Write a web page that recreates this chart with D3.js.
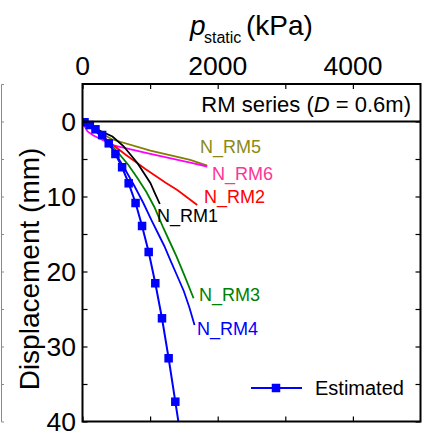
<!DOCTYPE html>
<html>
<head>
<meta charset="utf-8">
<script src="https://cdn.jsdelivr.net/npm/d3@7"></script>
<style>
  html, body { margin: 0; padding: 0; background: #fff; }
  svg { display: block; font-family: "Liberation Sans", Arial, sans-serif; }
</style>
</head>
<body>
<svg id="chart" width="425" height="432"></svg>
<script>
// Static pressure vs displacement, RM series (D = 0.6 m)
const xMajorTicks = [0, 2000, 4000];
const xMinorTicks = [1000, 3000];
const yMajorTicks = [0, 10, 20, 30, 40];
const yMinorTicks = [5, 15, 25, 35];

// measured curves: pressure (kPa) and displacement (mm)
const rm1P = [0, 118, 266, 443, 605, 812, 1004, 1077, 1144];
const rm1D = [0, 0.6, 1.27, 2.0, 3.27, 5.53, 8.2, 9.67, 11.0];
const rm2P = [0, 192, 413, 635, 930, 1225, 1402, 1697];
const rm2D = [0, 1.13, 2.87, 4.4, 6.33, 8.13, 9.13, 11.13];
const rm3P = [0, 192, 384, 531, 679, 812, 945, 1063, 1196, 1299, 1387, 1495, 1565, 1643];
const rm3D = [0, 1.27, 2.73, 4.2, 5.8, 7.53, 9.4, 11.4, 14.2, 16.2, 17.93, 20.24, 21.8, 23.57];
const rm4P = [0, 192, 384, 502, 635, 768, 900, 1018, 1107, 1210, 1299, 1402, 1498, 1579, 1657];
const rm4D = [0, 1.27, 2.87, 4.47, 6.47, 8.6, 10.87, 13.13, 14.73, 16.6, 18.47, 20.6, 22.6, 24.73, 27.13];
const rm5P = [0, 89, 266, 443, 1004, 1594, 1845];
const rm5D = [0, 0.6, 1.53, 2.4, 3.87, 5.13, 5.87];
const rm6P = [0, 30, 74, 162, 458, 1004, 1594, 1845];
const rm6D = [0, 0.6, 1.33, 1.87, 3.2, 4.33, 5.47, 6.0];

// estimated curve (with square markers)
const estP = [30, 108, 192, 291, 388, 487, 586, 683, 785, 881, 979, 1077, 1176, 1274, 1373, 1480];
const estD = [0.1, 0.47, 1.04, 1.8, 2.91, 4.33, 6.1, 8.24, 10.87, 13.93, 17.4, 21.57, 26.24, 31.57, 37.36, 43.6];

const series = [
  { name: "N_RM5", p: rm5P, d: rm5D, color: "#808000", text: "#8a8a1a", lx: 200, ly: 153 },
  { name: "N_RM6", p: rm6P, d: rm6D, color: "#ff00ff", text: "#ff3399", lx: 212, ly: 180 },
  { name: "N_RM2", p: rm2P, d: rm2D, color: "#ff0000", text: "#ff0000", lx: 204, ly: 203 },
  { name: "N_RM1", p: rm1P, d: rm1D, color: "#000000", text: "#000000", lx: 157, ly: 222 },
  { name: "N_RM3", p: rm3P, d: rm3D, color: "#008000", text: "#008000", lx: 199, ly: 301 },
  { name: "N_RM4", p: rm4P, d: rm4D, color: "#0000ff", text: "#0000ff", lx: 197, ly: 335 }
];

const svg = d3.select("#chart");
const pLeft = 82.5, pRight = 420.5, pTop = 84, pBottom = 421.5;
const x = d3.scaleLinear().domain([0, 5000]).range([pLeft, pRight]);
const y = d3.scaleLinear().domain([-5, 40]).range([pTop, pBottom]);

svg.append("defs").append("clipPath").attr("id", "plotclip")
  .append("rect").attr("x", pLeft).attr("y", pTop).attr("width", pRight - pLeft).attr("height", pBottom - pTop);

// edge of the neighbouring panel on the left
svg.append("g").attr("transform", "translate(1,0)")
  .call(d3.axisRight(y).tickValues([0, 5, 10, 15, 20, 25, 30, 35]).tickSize(3).tickFormat(""))
  .call(g => g.selectAll("line,path").attr("stroke", "#8a8a8a").attr("stroke-width", 1));

const line = d3.line().x(d => x(d[0])).y(d => y(d[1]));
const plot = svg.append("g").attr("clip-path", "url(#plotclip)");

series.forEach(s => {
  plot.append("path").datum(s.p.map((v, i) => [v, s.d[i]]))
    .attr("fill", "none").attr("stroke", s.color).attr("stroke-width", 1.8).attr("d", line);
  svg.append("text").attr("x", s.lx).attr("y", s.ly).attr("fill", s.text)
    .attr("font-size", 18).text(s.name);
});

const est = estP.map((v, i) => [v, estD[i]]);
plot.append("path").datum(est).attr("fill", "none").attr("stroke", "#0000ff")
  .attr("stroke-width", 2).attr("d", line);
plot.selectAll(".mk").data(est).join("rect").attr("class", "mk")
  .attr("x", d => x(d[0]) - 4.25).attr("y", d => y(d[1]) - 4.25)
  .attr("width", 8.5).attr("height", 8.5).attr("fill", "#0000ff");

// zero line and frame
svg.append("line").attr("x1", pLeft).attr("x2", pRight).attr("y1", y(0)).attr("y2", y(0))
  .attr("stroke", "#000").attr("stroke-width", 2);
svg.append("rect").attr("x", pLeft).attr("y", pTop).attr("width", pRight - pLeft).attr("height", pBottom - pTop)
  .attr("fill", "none").attr("stroke", "#000").attr("stroke-width", 2);

// ticks (inward on all sides)
const tickStyle = g => { g.select(".domain").remove(); g.selectAll("line").attr("stroke", "#000").attr("stroke-width", 1.2); };
svg.append("g").attr("transform", `translate(0,${pTop})`)
  .call(d3.axisBottom(x).tickValues(xMajorTicks.concat(xMinorTicks)).tickSize(5).tickFormat("")).call(tickStyle);
svg.append("g").attr("transform", `translate(0,${pBottom})`)
  .call(d3.axisTop(x).tickValues(xMajorTicks.concat(xMinorTicks)).tickSize(5).tickFormat("")).call(tickStyle);
svg.append("g").attr("transform", `translate(${pLeft},0)`)
  .call(d3.axisRight(y).tickValues(yMajorTicks.concat(yMinorTicks)).tickSize(5).tickFormat("")).call(tickStyle);
svg.append("g").attr("transform", `translate(${pRight},0)`)
  .call(d3.axisLeft(y).tickValues(yMajorTicks.concat(yMinorTicks)).tickSize(5).tickFormat("")).call(tickStyle);

// tick labels
svg.selectAll(".xl").data(xMajorTicks).join("text").attr("class", "xl")
  .attr("x", d => x(d)).attr("y", 75).attr("text-anchor", "middle").attr("font-size", 26.5).text(d => d);
svg.selectAll(".yl").data(yMajorTicks).join("text").attr("class", "yl")
  .attr("x", 76).attr("y", d => y(d) + 9.3).attr("text-anchor", "end").attr("font-size", 26.5).text(d => d);

// axis titles
const xt = svg.append("text").attr("y", 35).attr("font-size", 28);
xt.append("tspan").attr("x", 190).attr("font-style", "italic").text("p");
xt.append("tspan").attr("x", 204).attr("y", 42.5).attr("font-size", 16).text("static");
xt.append("tspan").attr("x", 246).attr("y", 35).text("(kPa)");

svg.append("text").attr("transform", "translate(39,269) rotate(-90)")
  .attr("text-anchor", "middle").attr("font-size", 28).text("Displacement (mm)");

// panel title
const tt = svg.append("text").attr("x", 411).attr("y", 112).attr("text-anchor", "end").attr("font-size", 22);
tt.append("tspan").text("RM series (");
tt.append("tspan").attr("font-style", "italic").text("D");
tt.append("tspan").text(" = 0.6m)");

// legend
svg.append("line").attr("x1", 251).attr("x2", 302).attr("y1", 388).attr("y2", 388)
  .attr("stroke", "#0000ff").attr("stroke-width", 2);
svg.append("rect").attr("x", 271.75).attr("y", 383.75).attr("width", 8.5).attr("height", 8.5).attr("fill", "#0000ff");
svg.append("text").attr("x", 315).attr("y", 395).attr("font-size", 20).text("Estimated");
</script>
</body>
</html>
